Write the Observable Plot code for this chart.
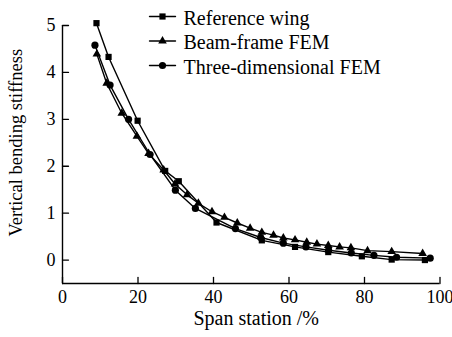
<!DOCTYPE html>
<html><head><meta charset="utf-8">
<script src="https://cdn.jsdelivr.net/npm/d3@7"></script>
<script src="https://cdn.jsdelivr.net/npm/@observablehq/plot@0.6"></script>
<style>body{margin:0;background:#fff} svg{display:block}</style>
</head><body><div id="chart"></div>
<script>
const seriesNames = ["Reference wing", "Beam-frame FEM", "Three-dimensional FEM"];
const seriesSymbols = ["square", "triangle", "circle"];
const seriesR = [3.5, 3.2, 3.6];

const refX = [9.0, 12.2, 19.9, 27.2, 30.8, 40.8, 52.8, 61.6, 70.4, 79.3, 87.2, 96.0];
const refY = [5.05, 4.33, 2.97, 1.90, 1.68, 0.80, 0.42, 0.28, 0.17, 0.08, 0.01, 0.00];

const beamX = [9.1, 11.7, 15.7, 19.7, 22.8, 26.8, 29.8, 33.0, 36.0, 39.6, 42.9, 46.3, 49.7, 52.8, 55.9, 58.5, 61.6, 64.7, 67.4, 70.4, 73.4, 76.4, 80.8, 87.2, 95.4];
const beamY = [4.39, 3.77, 3.13, 2.64, 2.27, 1.92, 1.62, 1.39, 1.21, 1.03, 0.91, 0.79, 0.68, 0.59, 0.53, 0.47, 0.43, 0.38, 0.34, 0.31, 0.28, 0.26, 0.20, 0.18, 0.14];

const tdX = [8.6, 12.6, 17.5, 23.2, 29.9, 35.2, 45.8, 52.5, 58.5, 64.5, 70.5, 76.5, 82.5, 88.5, 97.4];
const tdY = [4.58, 3.73, 3.00, 2.25, 1.49, 1.10, 0.67, 0.48, 0.36, 0.28, 0.21, 0.15, 0.10, 0.06, 0.04];

const xTicks = [0, 20, 40, 60, 80, 100];
const yTicks = [0, 1, 2, 3, 4, 5];
const xDomain = [0, 100];
const yDomain = [-0.5, 5];
const xLabel = "Span station /%";
const yLabel = "Vertical bending stiffness";

const seriesXY = [[refX, refY], [beamX, beamY], [tdX, tdY]];
const series = seriesXY.map(([xs, ys], i) => xs.map((x, j) => ({x, y: ys[j], s: seriesNames[i]})));

const font = "'Liberation Serif', 'Times New Roman', serif";
const lineShape = {draw(context, l) { context.moveTo(0, 0); context.lineTo(0, -l); }};
const yMid = (yTicks[0] + yTicks[yTicks.length - 1]) / 2;

const marks = [
  Plot.ruleX([xDomain[0]], {stroke: "#000", strokeWidth: 1.4}),
  Plot.ruleY([yDomain[0]], {stroke: "#000", strokeWidth: 1.4}),
  Plot.vector(xTicks, {x: d => d, y: yDomain[0], rotate: 0, length: 6, anchor: "start", shape: lineShape, stroke: "#000", strokeWidth: 1.3}),
  Plot.vector(yTicks, {x: xDomain[0], y: d => d, rotate: 90, length: 6, anchor: "start", shape: lineShape, stroke: "#000", strokeWidth: 1.3}),
  Plot.text(xTicks, {x: d => d, y: yDomain[0], text: d => String(d), dy: 7, lineAnchor: "top", textAnchor: "middle", fontSize: 18, fontFamily: font, fill: "#000"}),
  Plot.text(yTicks, {x: xDomain[0], y: d => d, text: d => String(d), dx: -7, lineAnchor: "middle", textAnchor: "end", fontSize: 18, fontFamily: font, fill: "#000"}),
  Plot.text([xLabel], {frameAnchor: "bottom", textAnchor: "middle", dx: 5, dy: 41, fontSize: 20, fontFamily: font, fill: "#000", text: d => d}),
  Plot.text([yLabel], {x: xDomain[0], y: yMid, textAnchor: "middle", lineAnchor: "middle", dx: -46, rotate: -90, fontSize: 18.5, fontFamily: font, fill: "#000", text: d => d})
];

series.forEach((data, i) => {
  marks.push(Plot.line(data, {x: "x", y: "y", stroke: "#000", strokeWidth: 1.4}));
  marks.push(Plot.dot(data, {x: "x", y: "y", symbol: () => seriesSymbols[i], r: seriesR[i], fill: "#000", stroke: "none"}));
  // legend row
  const dy = -9 + i * 24.5;
  marks.push(Plot.vector([seriesNames[i]], {frameAnchor: "top-left", dx: 87, dy, rotate: 90, length: 26, anchor: "start", shape: lineShape, stroke: "#000", strokeWidth: 1.4}));
  marks.push(Plot.dot([seriesNames[i]], {frameAnchor: "top-left", dx: 100, dy, symbol: () => seriesSymbols[i], r: seriesR[i], fill: "#000", stroke: "none"}));
  marks.push(Plot.text([seriesNames[i]], {frameAnchor: "top-left", dx: 121, dy: dy + 2, text: d => d, textAnchor: "start", lineAnchor: "middle", fontSize: 20, fontFamily: font, fill: "#000"}));
});

const chart = Plot.plot({
  width: 452, height: 337,
  marginLeft: 62, marginRight: 12.5, marginTop: 25, marginBottom: 54,
  style: {fontFamily: font, background: "#fff", color: "#000"},
  x: {domain: xDomain, axis: null},
  y: {domain: yDomain, axis: null},
  symbol: {type: "identity"},
  marks
});
document.getElementById("chart").appendChild(chart);
</script></body></html>
